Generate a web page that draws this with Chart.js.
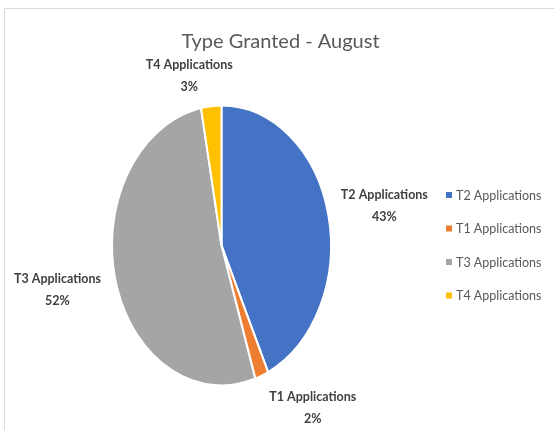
<!DOCTYPE html>
<html>
<head>
<meta charset="utf-8">
<script src="https://cdn.jsdelivr.net/npm/chart.js@4"></script>
<style>
    html, body { margin: 0; padding: 0; background: #fff; }
    #wrap { width: 554px; height: 430px; position: relative; }
</style>
</head>
<body>
<div id="wrap"><canvas id="pie" width="554" height="430"></canvas></div>
<script>
const title = 'Type Granted - August';
const categories = ['T2 Applications', 'T1 Applications', 'T3 Applications', 'T4 Applications'];
const shares = [43, 2, 52, 3];
const colors = ['#4472C4', '#ED7D31', '#A5A5A5', '#FFC000'];

// Excel draws this pie a bit taller than wide
const stretchY = 1.28;
// best-fit label nudges from the arc edge (x, y)
const labelNudge = [[56, -9], [51, 32], [-58, 10], [-22, -30]];

const $ = s => document.querySelector(s);

const ellipse = {
    id: 'ellipse',
    beforeDatasetsDraw(chart) {
        const arc = chart.getDatasetMeta(0).data[0];
        const { ctx } = chart;
        ctx.save();
        ctx.translate(arc.x, arc.y);
        ctx.scale(1, stretchY);
        ctx.translate(-arc.x, -arc.y);
    },
    afterDatasetsDraw(chart) {
        chart.ctx.restore();
    }
};

const decor = {
    id: 'decor',
    beforeDraw(chart) {
        const { ctx } = chart;
        ctx.save();
        ctx.strokeStyle = '#d9d9d9';
        ctx.lineWidth = 1;
        ctx.beginPath();
        ctx.moveTo(4.5, 430);
        ctx.lineTo(4.5, 8.5);
        ctx.lineTo(554, 8.5);
        ctx.stroke();
        ctx.restore();
    },
    afterDraw(chart) {
        const { ctx } = chart;
        ctx.save();
        // title
        ctx.fillStyle = '#595959';
        ctx.font = '20px Lato';
        ctx.textAlign = 'center';
        ctx.textBaseline = 'middle';
        ctx.fillText(title, 280.5, 42);

        // data labels
        const arcs = chart.getDatasetMeta(0).data;
        const total = shares.reduce((a, b) => a + b, 0);
        ctx.fillStyle = '#404040';
        ctx.font = 'bold 12.5px Lato';
        arcs.forEach((arc, i) => {
            const mid = (arc.startAngle + arc.endAngle) / 2;
            const r = arc.outerRadius;
            const x = arc.x + Math.cos(mid) * r + labelNudge[i][0];
            const y = arc.y + Math.sin(mid) * r * stretchY + labelNudge[i][1];
            ctx.fillText(categories[i], x, y - 11);
            ctx.fillText(Math.round(shares[i] / total * 100) + '%', x, y + 11);
        });

        // legend
        ctx.font = '12.5px Lato';
        ctx.textAlign = 'left';
        categories.forEach((c, i) => {
            const y = 195 + i * 33.5;
            ctx.fillStyle = colors[i];
            ctx.fillRect(446, y - 3, 6, 6);
            ctx.fillStyle = '#595959';
            ctx.fillText(c, 456, y + 0.5);
        });
        ctx.restore();
    }
};

new Chart($('#pie'), {
    type: 'pie',
    data: {
        labels: categories,
        datasets: [{
            data: shares,
            backgroundColor: colors,
            borderColor: '#ffffff',
            borderWidth: 2
        }]
    },
    options: {
        responsive: false,
        animation: false,
        layout: { padding: { left: 111, right: 222, top: 135, bottom: 74 } },
        plugins: {
            legend: { display: false },
            title: { display: false },
            tooltip: { enabled: false }
        }
    },
    plugins: [ellipse, decor]
});
</script>
</body>
</html>
